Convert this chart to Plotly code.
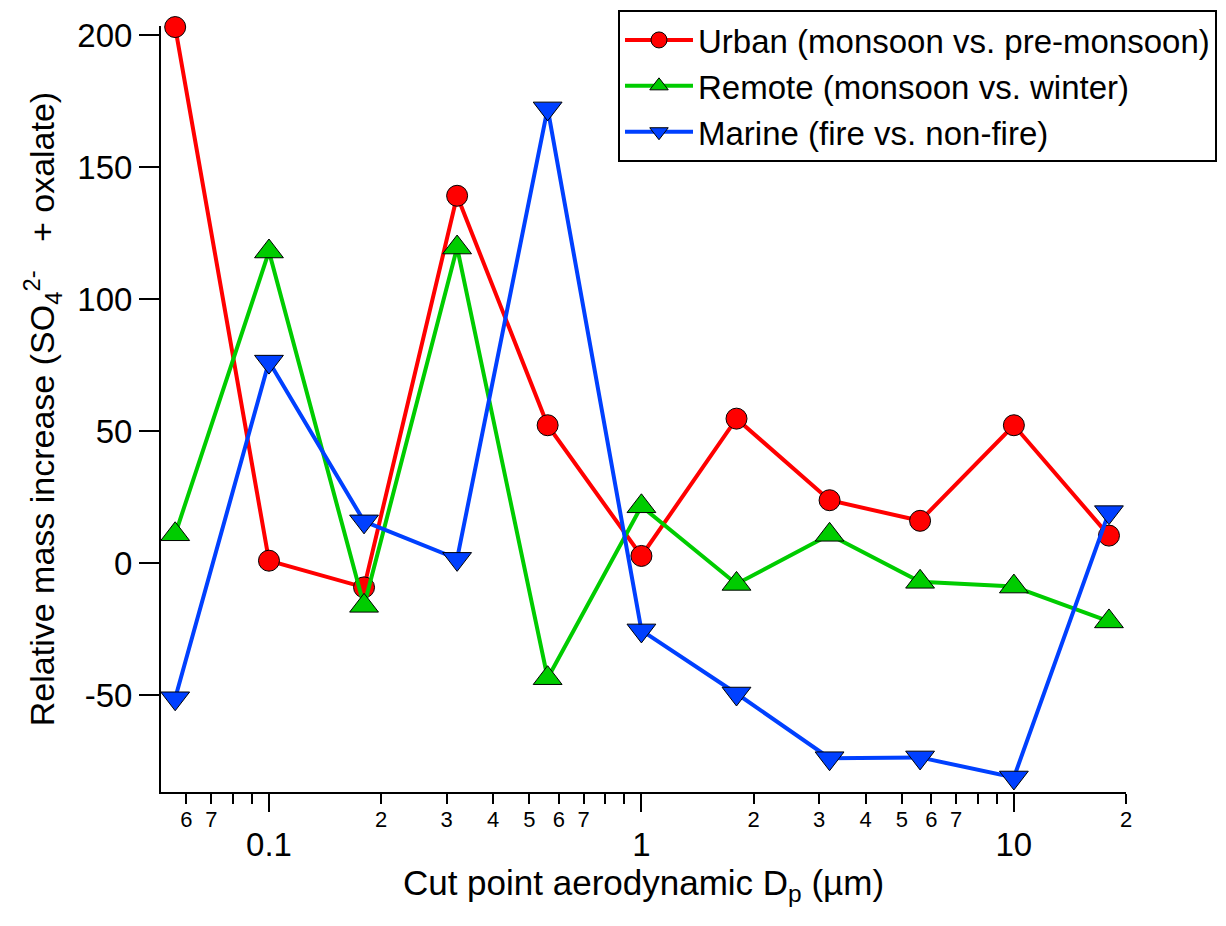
import math
import plotly.graph_objects as go

# ---- data ----
cut_points = [0.056, 0.1, 0.18, 0.32, 0.56, 1.0, 1.8, 3.2, 5.6, 10, 18]
urban = [203.1, 1.0, -9.1, 139.2, 52.3, 2.8, 54.8, 23.9, 16.1, 52.3, 10.5]
remote = [11.0, 118.1, -16.1, 119.6, -43.5, 21.6, -7.8, 10.8, -7.0, -8.8, -22.0]
marine = [-51.1, 76.4, 15.9, 1.7, 172.3, -25.4, -49.3, -73.8, -73.5, -81.1, 19.4]

series_names = ["Urban (monsoon vs. pre-monsoon)",
                "Remote (monsoon vs. winter)",
                "Marine (fire vs. non-fire)"]

minor_tick_vals = [0.06, 0.07, 0.08, 0.09,
                   0.2, 0.3, 0.4, 0.5, 0.6, 0.7, 0.8, 0.9,
                   2, 3, 4, 5, 6, 7, 8, 9, 20]
minor_tick_text = ["6", "7", "", "",
                   "2", "3", "4", "5", "6", "7", "", "",
                   "2", "3", "4", "5", "6", "7", "", "", "2"]
major_tick_vals = [0.1, 1, 10]
major_tick_text = ["0.1", "1", "10"]
y_tick_vals = [-50, 0, 50, 100, 150, 200]
y_tick_text = ["-50", "0", "50", "100", "150", "200"]

x_min, x_max = 0.0513, 20
y_min, y_max = -86.6, 203.5

FONT = "Arial, Liberation Sans, sans-serif"
colors = ["#FF0000", "#00CC00", "#0040FF"]
symbols = ["circle", "triangle-up", "triangle-down"]
sizes = [21, 25, 25]

fig = go.Figure()

# carrier for the overlaid major-tick axis (draws nothing)
fig.add_trace(go.Scatter(
    x=major_tick_vals, y=[None] * len(major_tick_vals), xaxis="x2", yaxis="y",
    mode="markers", marker=dict(opacity=0), showlegend=False, hoverinfo="skip",
))

for name, vals, c, s, sz in zip(series_names, [urban, remote, marine], colors, symbols, sizes):
    fig.add_trace(go.Scatter(
        x=cut_points, y=vals, name=name, mode="lines+markers",
        line=dict(color=c, width=4),
        marker=dict(symbol=s, size=sz, color=c, line=dict(color="black", width=1)),
        cliponaxis=False,
    ))

axis_common = dict(showgrid=False, zeroline=False, color="black")

fig.update_layout(
    width=1210, height=910,
    margin=dict(l=153, r=92, t=18, b=126, autoexpand=False),
    paper_bgcolor="white", plot_bgcolor="white",
    font=dict(family=FONT, color="black"),
    showlegend=True,
    legend=dict(
        x=1.0943, y=1.0209, xanchor="right", yanchor="top",
        bgcolor="white", bordercolor="black", borderwidth=2,
        font=dict(size=33, family=FONT, color="black"),
        tracegroupgap=0, itemwidth=68,
    ),
    xaxis=dict(
        type="log", range=[math.log10(x_min), math.log10(x_max)],
        showline=True, linewidth=2, linecolor="black",
        ticks="outside", ticklen=10, tickwidth=2, tickcolor="black",
        tickmode="array", tickvals=minor_tick_vals, ticktext=minor_tick_text,
        tickfont=dict(size=22, family=FONT),
        ticklabelstandoff=-3,
        title=dict(text="Cut point aerodynamic D<sub>p</sub> (µm)",
                   font=dict(size=35, family=FONT), standoff=39),
        **axis_common,
    ),
    xaxis2=dict(
        type="log", range=[math.log10(x_min), math.log10(x_max)],
        overlaying="x", anchor="y", side="bottom",
        showline=False,
        ticks="outside", ticklen=19, tickwidth=2, tickcolor="black",
        tickmode="array", tickvals=major_tick_vals, ticktext=major_tick_text,
        tickfont=dict(size=33, family=FONT),
        ticklabelstandoff=4,
        **axis_common,
    ),
    yaxis=dict(
        range=[y_min, y_max],
        showline=True, linewidth=2, linecolor="black",
        ticks="outside", ticklen=20, tickwidth=2, tickcolor="black",
        tickmode="array", tickvals=y_tick_vals, ticktext=y_tick_text,
        tickfont=dict(size=33, family=FONT),
        title=dict(text="Relative mass increase (SO<sub>4</sub><sup>2-</sup>   + oxalate)",
                   font=dict(size=34, family=FONT), standoff=12),
        **axis_common,
    ),
)

fig.write_html("out.html")
